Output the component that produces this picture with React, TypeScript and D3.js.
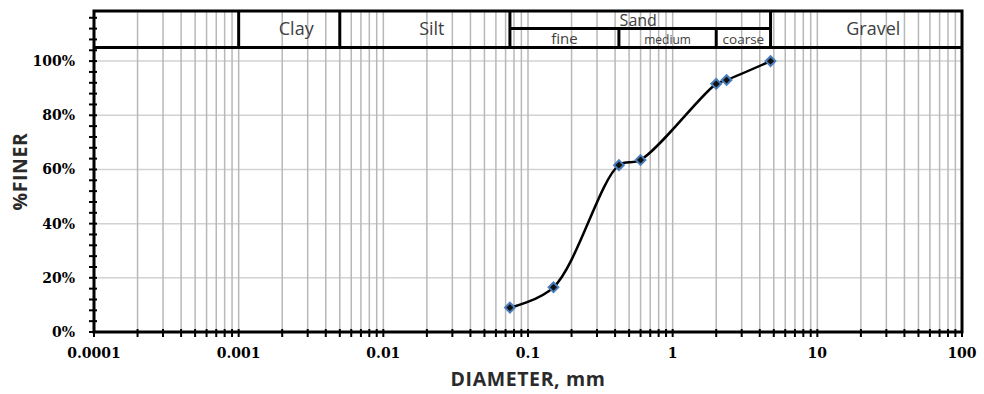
import * as d3 from 'd3';

// sieve results
const diameters = [0.075, 0.15, 0.425, 0.6, 2.0, 2.36, 4.75];
const percentFiner = [0.09, 0.165, 0.616, 0.635, 0.916, 0.93, 1.0];

const xTickValues = [0.0001, 0.001, 0.01, 0.1, 1, 10, 100];
const xTickLabels = ['0.0001', '0.001', '0.01', '0.1', '1', '10', '100'];
const yTickValues = [0, 0.2, 0.4, 0.6, 0.8, 1.0];

// soil classes along the top band
const mainBounds = [0.001, 0.005, 0.075, 4.75];
const mainZones = [
  { name: 'Clay', from: 0.001, to: 0.005 },
  { name: 'Silt', from: 0.005, to: 0.075 },
  { name: 'Gravel', from: 4.75, to: 100 },
];
const sandZone = { name: 'Sand', from: 0.075, to: 4.75 };
const sandParts = [
  { name: 'fine', from: 0.075, to: 0.425, size: 15 },
  { name: 'medium', from: 0.425, to: 2.0, size: 12 },
  { name: 'coarse', from: 2.0, to: 4.75, size: 13.5 },
];

const W = 984;
const H = 394;
const margin = { top: 11, right: 22, bottom: 62, left: 94 };

export default function App() {
  const x = d3.scaleLog().domain([0.0001, 100]).range([margin.left, W - margin.right]);
  const y = d3.scaleLinear().domain([0, 1.185]).range([H - margin.bottom, margin.top]);

  const minorX: number[] = [];
  for (let e = -4; e < 2; e++) {
    for (let m = 1; m <= 9; m++) minorX.push(m * Math.pow(10, e));
  }
  minorX.push(100);
  const minorY = d3.range(0, 1.185, 0.04);

  const pts = diameters.map((d, i) => [x(d), y(percentFiner[i])] as [number, number]);
  const line = d3.line().curve(d3.curveCatmullRom.alpha(0.5))(pts) || '';

  const x0 = margin.left;
  const x1 = W - margin.right;
  const yBot = y(0);
  const yTop = y(1.185);
  const yHead = y(1.05);
  const ySand = y(1.12);

  const tickFont = "'DejaVu Serif', 'Liberation Serif', serif";
  const labelFont = "'Open Sans', 'Noto Sans', sans-serif";

  return (
    <svg width={W} height={H} style={{ position: 'absolute', left: 0, top: 0, background: '#fff' }}>
      {/* grid */}
      {yTickValues.slice(1).map(v => (
        <line key={'hy' + v} x1={x0} x2={x1} y1={y(v)} y2={y(v)} stroke="#d2d2d2" strokeWidth={1.5} />
      ))}
      {minorX.map((v, i) => (
        <line key={'gx' + i} x1={x(v)} x2={x(v)} y1={yTop} y2={yBot} stroke="#b8b8b8" strokeWidth={1.5} />
      ))}

      {/* header band */}
      <line x1={x0} x2={x1} y1={yHead} y2={yHead} stroke="#000" strokeWidth={3} />
      <line x1={x(sandZone.from)} x2={x(sandZone.to)} y1={ySand} y2={ySand} stroke="#000" strokeWidth={3} />
      {mainBounds.map(b => (
        <line key={'mb' + b} x1={x(b)} x2={x(b)} y1={yTop} y2={yHead} stroke="#000" strokeWidth={3} />
      ))}
      {sandParts.slice(1).map(p => (
        <line key={'sp' + p.name} x1={x(p.from)} x2={x(p.from)} y1={ySand} y2={yHead} stroke="#000" strokeWidth={3} />
      ))}
      {mainZones.map(z => (
        <text
          key={z.name}
          x={(x(z.from) + x(z.to)) / 2 + 7}
          y={(yTop + yHead) / 2 + 6}
          textAnchor="middle"
          fontFamily={labelFont}
          fontSize={18}
          fill="#404040"
        >
          {z.name}
        </text>
      ))}
      <text
        x={(x(sandZone.from) + x(sandZone.to)) / 2 - 2}
        y={ySand - 3}
        textAnchor="middle"
        fontFamily={labelFont}
        fontSize={16}
        fill="#404040"
      >
        {sandZone.name}
      </text>
      {sandParts.map(p => (
        <text
          key={p.name}
          x={(x(p.from) + x(p.to)) / 2}
          y={yHead - 4}
          textAnchor="middle"
          fontFamily={labelFont}
          fontSize={p.size}
          fill="#404040"
        >
          {p.name}
        </text>
      ))}

      {/* frame */}
      <rect x={x0} y={yTop} width={x1 - x0} height={yBot - yTop} fill="none" stroke="#000" strokeWidth={3} />

      {/* y axis ticks */}
      {minorY.map((v, i) => (
        <line key={'ty' + i} x1={x0 - 5} x2={x0 + 3} y1={y(v)} y2={y(v)} stroke="#000" strokeWidth={2} />
      ))}
      {yTickValues.map(v => (
        <text
          key={'ly' + v}
          x={x0 - 19}
          y={y(v) + 5}
          textAnchor="end"
          fontFamily={tickFont}
          fontWeight="bold"
          fontSize={14}
          fill="#000"
        >
          {d3.format('.0%')(v)}
        </text>
      ))}

      {/* x axis ticks */}
      {minorX.map((v, i) => (
        <line key={'tx' + i} x1={x(v)} x2={x(v)} y1={yBot - 3} y2={yBot + 5} stroke="#000" strokeWidth={2} />
      ))}
      {xTickValues.map((v, i) => (
        <text
          key={'lx' + v}
          x={x(v)}
          y={yBot + 26}
          textAnchor="middle"
          fontFamily={tickFont}
          fontWeight="bold"
          fontSize={14}
          fill="#000"
        >
          {xTickLabels[i]}
        </text>
      ))}

      {/* data */}
      <path d={line} fill="none" stroke="#000" strokeWidth={2.5} />
      {pts.map((p, i) => (
        <path
          key={'pt' + i}
          d={d3.symbol(d3.symbolDiamond2, 60)() || ''}
          transform={`translate(${p[0]},${p[1]})`}
          fill="#111"
          stroke="#4a7ebb"
          strokeWidth={2}
        />
      ))}

      {/* titles */}
      <text
        x={(x0 + x1) / 2}
        y={H - 8}
        textAnchor="middle"
        fontFamily={labelFont}
        fontWeight="bold"
        fontSize={19.5}
        letterSpacing={0.6}
        fill="#2a2a2a"
      >
        DIAMETER, mm
      </text>
      <text
        transform={`translate(27,${(yTop + yBot) / 2}) rotate(-90)`}
        textAnchor="middle"
        fontFamily={labelFont}
        fontWeight="bold"
        fontSize={19.5}
        letterSpacing={0.6}
        fill="#2a2a2a"
      >
        %FINER
      </text>
    </svg>
  );
}
